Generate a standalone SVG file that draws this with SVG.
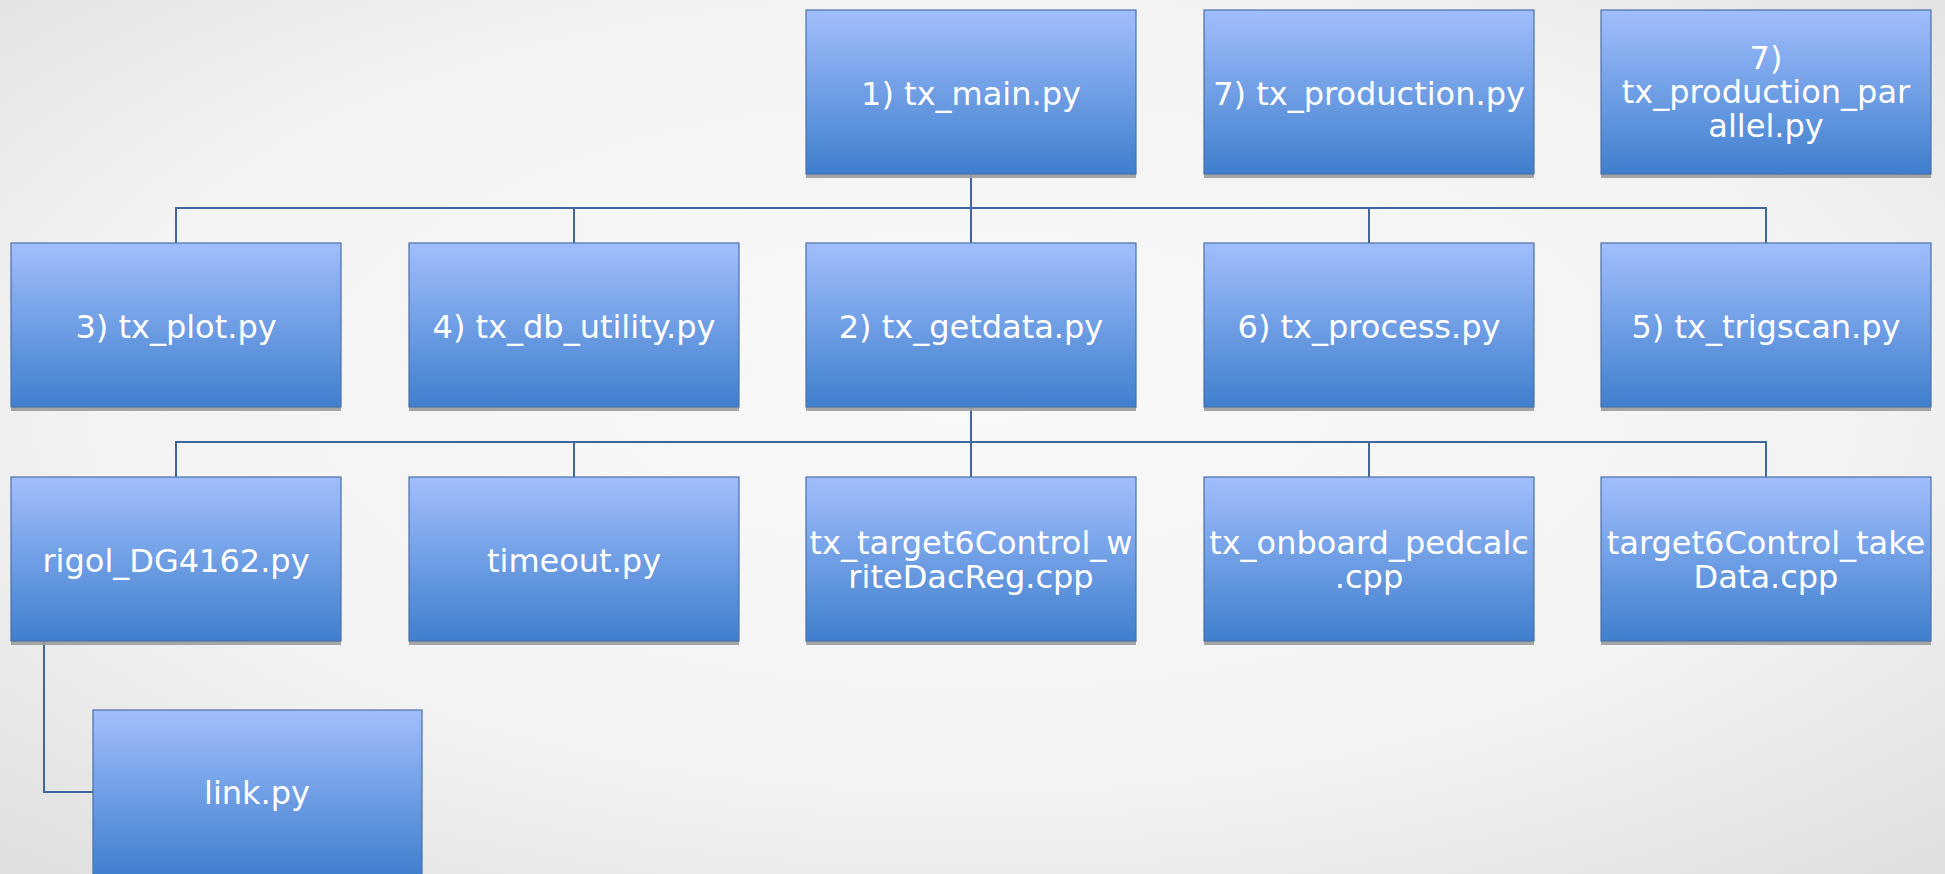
<svg xmlns="http://www.w3.org/2000/svg" width="1945" height="874" viewBox="0 0 1945 874">
<defs>
<radialGradient id="bg" cx="50%" cy="45%" r="75%">
<stop offset="0" stop-color="#f9f9f9"/>
<stop offset="0.6" stop-color="#f3f3f3"/>
<stop offset="1" stop-color="#dedede"/>
</radialGradient>
<linearGradient id="box" x1="0" y1="0" x2="0" y2="1">
<stop offset="0" stop-color="#a1befd"/>
<stop offset="1" stop-color="#3f7fcd"/>
</linearGradient>
<style>
.sh{fill:#9c9c9c;opacity:0.9}
.bx{fill:url(#box);stroke:#4a70a8;stroke-width:1.2}
.t{fill:#ffffff;font-family:"DejaVu Sans","Liberation Sans",sans-serif;font-size:32px;text-anchor:middle}
.c{fill:none;stroke:#3d679d;stroke-width:2}
</style>
</defs>
<rect x="0" y="0" width="1945" height="874" fill="url(#bg)"/>
<g id="connectors">
<path class="c" d="M971,174 V208 M176,243 V208 H1766 V243 M574,208 V243 M971,208 V243 M1369,208 V243"/>
<path class="c" d="M971,408 V442 M176,477 V442 H1766 V477 M574,442 V477 M971,442 V477 M1369,442 V477"/>
<path class="c" d="M44,641 V792 H93"/>
</g>
<g id="n1"><rect class="sh" x="806" y="14" width="330" height="164"/><rect class="bx" x="806" y="10" width="330" height="164"/><text class="t" x="971" y="105">1) tx_main.py</text></g>
<g id="n7a"><rect class="sh" x="1204" y="14" width="330" height="164"/><rect class="bx" x="1204" y="10" width="330" height="164"/><text class="t" x="1369" y="105">7) tx_production.py</text></g>
<g id="n7b"><rect class="sh" x="1601" y="14" width="330" height="164"/><rect class="bx" x="1601" y="10" width="330" height="164"/><text class="t" x="1766" y="69">7)</text><text class="t" x="1766" y="103">tx_production_par</text><text class="t" x="1766" y="137">allel.py</text></g>
<g id="n3"><rect class="sh" x="11" y="247" width="330" height="164"/><rect class="bx" x="11" y="243" width="330" height="164"/><text class="t" x="176" y="338">3) tx_plot.py</text></g>
<g id="n4"><rect class="sh" x="409" y="247" width="330" height="164"/><rect class="bx" x="409" y="243" width="330" height="164"/><text class="t" x="574" y="338">4) tx_db_utility.py</text></g>
<g id="n2"><rect class="sh" x="806" y="247" width="330" height="164"/><rect class="bx" x="806" y="243" width="330" height="164"/><text class="t" x="971" y="338">2) tx_getdata.py</text></g>
<g id="n6"><rect class="sh" x="1204" y="247" width="330" height="164"/><rect class="bx" x="1204" y="243" width="330" height="164"/><text class="t" x="1369" y="338">6) tx_process.py</text></g>
<g id="n5"><rect class="sh" x="1601" y="247" width="330" height="164"/><rect class="bx" x="1601" y="243" width="330" height="164"/><text class="t" x="1766" y="338">5) tx_trigscan.py</text></g>
<g id="rigol"><rect class="sh" x="11" y="481" width="330" height="164"/><rect class="bx" x="11" y="477" width="330" height="164"/><text class="t" x="176" y="572">rigol_DG4162.py</text></g>
<g id="timeout"><rect class="sh" x="409" y="481" width="330" height="164"/><rect class="bx" x="409" y="477" width="330" height="164"/><text class="t" x="574" y="572">timeout.py</text></g>
<g id="writedac"><rect class="sh" x="806" y="481" width="330" height="164"/><rect class="bx" x="806" y="477" width="330" height="164"/><text class="t" x="971" y="554">tx_target6Control_w</text><text class="t" x="971" y="588">riteDacReg.cpp</text></g>
<g id="pedcalc"><rect class="sh" x="1204" y="481" width="330" height="164"/><rect class="bx" x="1204" y="477" width="330" height="164"/><text class="t" x="1369" y="554">tx_onboard_pedcalc</text><text class="t" x="1369" y="588">.cpp</text></g>
<g id="takedata"><rect class="sh" x="1601" y="481" width="330" height="164"/><rect class="bx" x="1601" y="477" width="330" height="164"/><text class="t" x="1766" y="554">target6Control_take</text><text class="t" x="1766" y="588">Data.cpp</text></g>
<g id="link"><rect class="bx" x="93" y="710" width="329" height="166"/><text class="t" x="257" y="804">link.py</text></g>
</svg>
